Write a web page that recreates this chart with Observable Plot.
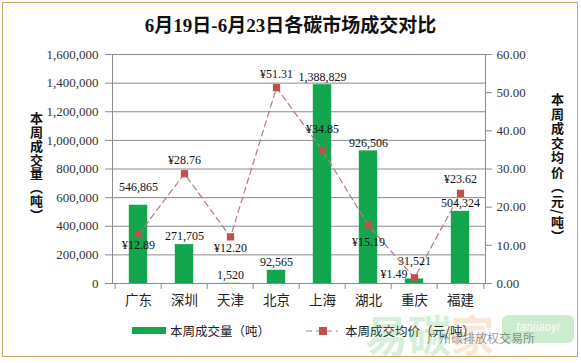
<!DOCTYPE html>
<html><head><meta charset="utf-8">
<script src="https://cdn.jsdelivr.net/npm/d3@7"></script>
<script src="https://cdn.jsdelivr.net/npm/@observablehq/plot@0.6"></script>
<style>
body{margin:0;background:#fff;}
#wrap{position:relative;width:581px;height:363px;overflow:hidden;font-family:"Noto Sans CJK SC",sans-serif;background:#fff;}
#border{position:absolute;left:2px;top:2px;width:576px;height:355px;border:1.5px solid #d4a25f;box-sizing:border-box;}
#chart{position:absolute;left:0;top:0;}
#title{position:absolute;left:0;width:581px;top:13px;text-align:center;font-family:"Liberation Serif","Noto Sans CJK SC",serif;font-weight:bold;font-size:19px;color:#111;line-height:26px;}
.vt{position:absolute;writing-mode:vertical-rl;font-weight:bold;font-size:13px;color:#111;line-height:14px;}
#lt{left:29px;top:112px;letter-spacing:0.75px;}
#rt{left:550px;top:93px;letter-spacing:1.5px;}
.leg{position:absolute;font-size:12.5px;color:#222;line-height:16px;}
#wm{position:absolute;left:365px;top:300px;width:215px;height:63px;pointer-events:none;}
</style></head>
<body>
<div id="wrap">
  <div id="border"></div>
  <div id="title">6月19日-6月23日各碳市场成交对比</div>
  <div id="chart"></div>
  <div class="vt" id="lt">本周成交量（吨）</div>
  <div class="vt" id="rt">本周成交均价（元/吨）</div>
  <div style="position:absolute;left:132px;top:327px;width:34px;height:7px;background:#13a64f;"></div>
  <div class="leg" style="left:170px;top:323px;">本周成交量（吨）</div>
  <svg style="position:absolute;left:305px;top:322px;" width="34" height="18">
    <line x1="1" y1="9" x2="33" y2="9" stroke="#b57b7f" stroke-width="1.2" stroke-dasharray="6,4"/>
    <rect x="14" y="5" width="8" height="8" fill="#c0504d"/>
  </svg>
  <div class="leg" style="left:345px;top:323px;">本周成交均价（元/吨）</div>
  <div id="wm">
    <div style="position:absolute;left:0;top:12px;font-size:43px;font-weight:bold;line-height:43px;color:rgba(110,200,120,0.28);">易碳<span style="color:rgba(240,170,110,0.3)">家</span></div>
    <div style="position:absolute;left:137px;top:15px;width:72px;height:28px;border-radius:6px;background:rgba(110,200,120,0.35);color:rgba(255,255,255,0.9);font-family:Roboto,sans-serif;font-size:12px;line-height:24px;text-align:center;font-style:italic;">tanjiaoyi</div>
    <div style="position:absolute;left:62px;top:31px;font-size:12px;line-height:14px;color:rgba(60,60,60,0.55);">广州碳排放权交易所</div>
  </div>
</div>
<script>
const categories = ["广东","深圳","天津","北京","上海","湖北","重庆","福建"];
const volumes = [546865, 271705, 1520, 92565, 1388829, 926506, 31521, 504324];
const prices = [12.89, 28.76, 12.20, 51.31, 34.85, 15.19, 1.49, 23.62];
const volumeTicks = [0, 200000, 400000, 600000, 800000, 1000000, 1200000, 1400000, 1600000];
const priceTicks = [0, 10, 20, 30, 40, 50, 60];
// label placement styles (as Excel placed them)
const volLabelPlacement = ["high","near","near","near","near","near","high","near"];
const priceLabelPlacement = ["below","above","below","above","above-far","below-far","left","above"];

const W = 581, H = 363, mT = 54, mB = 80, mL = 112, mR = 96;
const k = 1600000 / 60;
const step = (W - mL - mR) / categories.length;
const plotH = H - mT - mB;
const fmtInt = d3.format(",");

const data = categories.map((c, i) => ({
  cat: c, vol: volumes[i], price: prices[i], pv: prices[i] * k,
  volLabel: fmtInt(volumes[i]), priceLabel: "¥" + prices[i].toFixed(2),
  vplace: volLabelPlacement[i], place: priceLabelPlacement[i]
}));

const numFont = "Liberation Serif";
const grid = "#8a8a8a";
const lbl = {fontSize: 12, fontFamily: numFont, fill: "#111"};
const priceText = (place, extra) => Plot.text(data.filter(d => d.place === place), {x: "cat", y: "pv", text: "priceLabel", ...lbl, ...extra});
const volText = (place, extra) => Plot.text(data.filter(d => d.vplace === place), {x: "cat", y: "vol", text: "volLabel", ...lbl, ...extra});

const chart = Plot.plot({
  width: W, height: H,
  marginTop: mT, marginBottom: mB, marginLeft: mL, marginRight: mR,
  style: {background: "transparent", overflow: "visible"},
  x: {type: "band", domain: categories, padding: 0},
  y: {domain: [0, 1600000]},
  marks: [
    Plot.ruleY(volumeTicks, {stroke: grid, strokeWidth: 1}),
    Plot.frame({stroke: grid, strokeWidth: 1}),
    Plot.barY(data, {x: "cat", y: "vol", fill: "#13a64f", insetLeft: 13.8, insetRight: 13.8}),
    Plot.ruleX(categories, {x: d => d, dx: -step / 2, stroke: grid, insetTop: plotH, insetBottom: -6}),
    Plot.ruleX(categories.slice(-1), {x: d => d, dx: step / 2, stroke: grid, insetTop: plotH, insetBottom: -6}),
    Plot.line(data, {x: "cat", y: "pv", stroke: "#b57b7f", strokeWidth: 1.2, strokeDasharray: "6,4"}),
    Plot.dot(data, {x: "cat", y: "pv", symbol: "square", r: 4.1, fill: "#c0504d", stroke: "none"}),
    volText("near", {dy: -8}),
    volText("high", {dy: -18}),
    priceText("above", {dy: -14}),
    priceText("above-far", {dy: -21}),
    priceText("below", {dy: 11}),
    priceText("below-far", {dy: 17}),
    priceText("left", {dx: -7, dy: -4, textAnchor: "end"}),
    Plot.axisY(volumeTicks, {anchor: "left", tickSize: 7, tickPadding: 7, stroke: grid, fill: "#333", tickFormat: fmtInt, fontSize: 13, fontFamily: numFont, label: null}),
    Plot.axisY(priceTicks.map(p => p * k), {anchor: "right", tickSize: 6, tickPadding: 5, stroke: grid, fill: "#333", tickFormat: d => (d / k).toFixed(2), fontSize: 13, fontFamily: numFont, label: null}),
    Plot.axisX({tickSize: 0, tickPadding: 12, fill: "#222", fontSize: 13.5, fontFamily: "Noto Sans CJK SC", label: null})
  ]
});
document.getElementById("chart").appendChild(chart);
</script>
</body></html>
